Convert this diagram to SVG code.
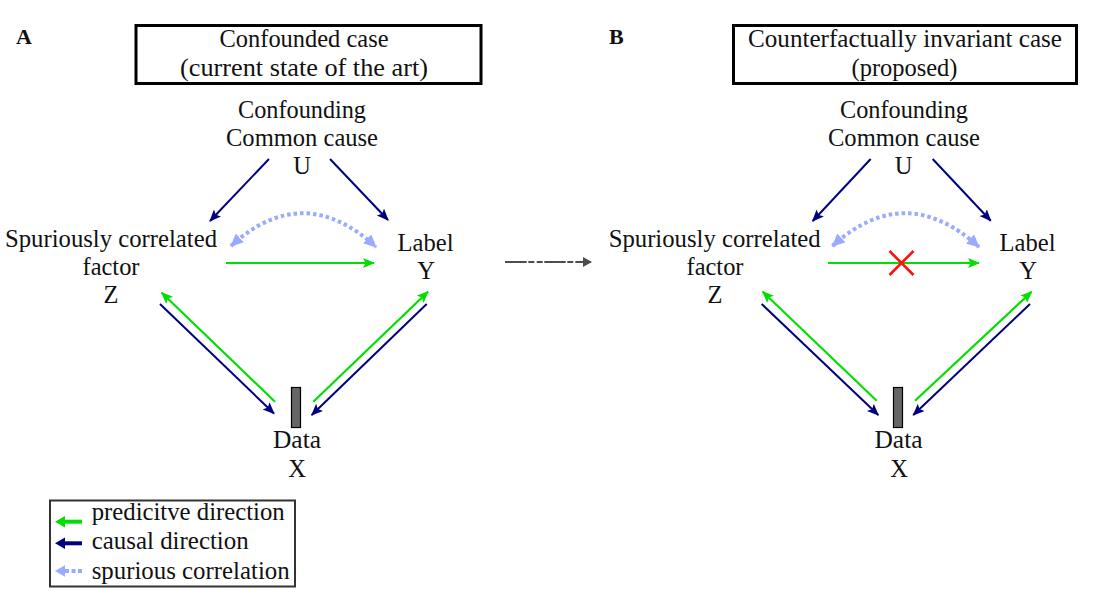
<svg xmlns="http://www.w3.org/2000/svg" width="1113" height="599" viewBox="0 0 1113 599">
<style>
text{font-family:"Liberation Serif","Times New Roman",serif;font-size:24.5px;fill:#111;}
.c{text-anchor:middle;}
.b{font-weight:bold;font-size:22px;}
.nav{stroke:#000080;stroke-width:2;fill:none;}
.grn{stroke:#00e000;stroke-width:2.2;fill:none;}
.spu{stroke:#99aaff;stroke-width:4;fill:none;stroke-dasharray:3.5 3;}
.title{fill:#fff;stroke:#000;stroke-width:3;}
</style>
<defs>
<marker id="mNav" markerUnits="userSpaceOnUse" markerWidth="14" markerHeight="12" refX="11" refY="5" orient="auto"><path d="M0,0 L12,5 L0,10 L2.5,5 z" fill="#000080"/></marker>
<marker id="mGrn" markerUnits="userSpaceOnUse" markerWidth="14" markerHeight="12" refX="11" refY="5" orient="auto"><path d="M0,0 L12,5 L0,10 L2.5,5 z" fill="#00e000"/></marker>
<marker id="mSpu" markerUnits="userSpaceOnUse" markerWidth="16" markerHeight="14" refX="12" refY="6" orient="auto-start-reverse"><path d="M0,0 L13,6 L0,12 z" fill="#99aaff"/></marker>
<marker id="mGray" markerUnits="userSpaceOnUse" markerWidth="12" markerHeight="12" refX="8" refY="5" orient="auto"><path d="M0,0 L9,5 L0,10 z" fill="#4d4d4d"/></marker>
</defs>

<!-- Panel A -->
<g id="panelA-label"><text class="b" x="16" y="44">A</text></g>
<g id="titleA"><rect class="title" x="136" y="25.5" width="345" height="58"/>
<text class="c" x="304" y="47" textLength="169" lengthAdjust="spacingAndGlyphs">Confounded case</text>
<text class="c" x="304" y="76" textLength="248" lengthAdjust="spacingAndGlyphs">(current state of the art)</text></g>
<g id="nodeU_A"><text class="c" x="302" y="118" textLength="128" lengthAdjust="spacingAndGlyphs">Confounding</text>
<text class="c" x="302" y="146" textLength="152" lengthAdjust="spacingAndGlyphs">Common cause</text>
<text class="c" x="302" y="174">U</text></g>
<g id="nodeZ_A"><text class="c" x="111" y="246.5" textLength="212" lengthAdjust="spacingAndGlyphs">Spuriously correlated</text>
<text class="c" x="111" y="274.5" textLength="57" lengthAdjust="spacingAndGlyphs">factor</text>
<text class="c" x="111" y="302.5">Z</text></g>
<g id="nodeY_A"><text class="c" x="425.5" y="250.5" textLength="56" lengthAdjust="spacingAndGlyphs">Label</text>
<text class="c" x="426" y="279">Y</text></g>
<g id="nodeX_A"><rect x="291.5" y="387.5" width="9" height="40" fill="#666" stroke="#000" stroke-width="1.2"/>
<text class="c" x="297" y="448" textLength="48" lengthAdjust="spacingAndGlyphs">Data</text>
<text class="c" x="297" y="476.5">X</text></g>

<!-- Panel B -->
<g id="panelB-label"><text class="b" x="609" y="44">B</text></g>
<g id="titleB"><rect class="title" x="733.5" y="25.5" width="343" height="58"/>
<text class="c" x="905" y="47" textLength="314" lengthAdjust="spacingAndGlyphs">Counterfactually invariant case</text>
<text class="c" x="904.5" y="76" textLength="106" lengthAdjust="spacingAndGlyphs">(proposed)</text></g>
<g id="nodeU_B"><text class="c" x="904" y="118" textLength="128" lengthAdjust="spacingAndGlyphs">Confounding</text>
<text class="c" x="904" y="146" textLength="152" lengthAdjust="spacingAndGlyphs">Common cause</text>
<text class="c" x="903.5" y="174">U</text></g>
<g id="nodeZ_B"><text class="c" x="714.7" y="246.5" textLength="212" lengthAdjust="spacingAndGlyphs">Spuriously correlated</text>
<text class="c" x="715" y="274.5" textLength="57" lengthAdjust="spacingAndGlyphs">factor</text>
<text class="c" x="715" y="302.5">Z</text></g>
<g id="nodeY_B"><text class="c" x="1027.5" y="250.5" textLength="56" lengthAdjust="spacingAndGlyphs">Label</text>
<text class="c" x="1028" y="279">Y</text></g>
<g id="nodeX_B"><rect x="893.5" y="387.5" width="9" height="40" fill="#666" stroke="#000" stroke-width="1.2"/>
<text class="c" x="898.5" y="448" textLength="48" lengthAdjust="spacingAndGlyphs">Data</text>
<text class="c" x="899" y="476.5">X</text></g>

<!-- Connectors -->
<g id="connectors">
<!-- A -->
<path class="nav" d="M269,159 L210,221" marker-end="url(#mNav)"/>
<path class="nav" d="M330,159 L388,220" marker-end="url(#mNav)"/>
<path class="spu" d="M231,246 Q303,180 376,247" marker-start="url(#mSpu)" marker-end="url(#mSpu)"/>
<path class="grn" d="M226,263 L374,263" marker-end="url(#mGrn)"/>
<path class="grn" d="M275,401.7 L161.7,292.7" marker-end="url(#mGrn)"/>
<path class="nav" d="M160,304 L274,413.5" marker-end="url(#mNav)"/>
<path class="grn" d="M313.3,401.7 L428,291.7" marker-end="url(#mGrn)"/>
<path class="nav" d="M426.7,304 L311.7,415" marker-end="url(#mNav)"/>
<!-- middle -->
<path d="M505,262 L591,262" stroke="#4d4d4d" stroke-width="2" fill="none" stroke-dasharray="21.7 1.6 6 2.4 6 1.6 21.4 1.6 6 2 16" marker-end="url(#mGray)"/>
<!-- B -->
<path class="nav" d="M870.7,159 L812.7,221" marker-end="url(#mNav)"/>
<path class="nav" d="M932.7,159 L990.7,220.7" marker-end="url(#mNav)"/>
<path class="spu" d="M832.5,246 Q905,180 979,247" marker-start="url(#mSpu)" marker-end="url(#mSpu)"/>
<path class="grn" d="M828,263 L979,263" marker-end="url(#mGrn)"/>
<path class="grn" d="M876.7,400.7 L762.7,291.7" marker-end="url(#mGrn)"/>
<path class="nav" d="M761.7,304 L878.3,415" marker-end="url(#mNav)"/>
<path class="grn" d="M915,400.7 L1031.7,291.7" marker-end="url(#mGrn)"/>
<path class="nav" d="M1030,304 L913.3,415" marker-end="url(#mNav)"/>
<g id="crossX" stroke="#ff1010" stroke-width="2.6"><line x1="889.5" y1="251" x2="913.5" y2="275"/><line x1="913.5" y1="251" x2="889.5" y2="275"/></g>
</g>

<!-- Legend -->
<g id="legend">
<rect x="50" y="500.5" width="245" height="86" fill="#fff" stroke="#333" stroke-width="2"/>
<line x1="82" y1="521.7" x2="62" y2="521.7" stroke="#00e000" stroke-width="4"/>
<path d="M55,521.7 L65,516 L65,527.4 z" fill="#00e000"/>
<line x1="82" y1="543.3" x2="62" y2="543.3" stroke="#000080" stroke-width="4"/>
<path d="M55,543.3 L65,537.6 L65,549 z" fill="#000080"/>
<line x1="82" y1="571" x2="64" y2="571" stroke="#99aaff" stroke-width="4" stroke-dasharray="4 2.5"/>
<path d="M55,571 L65,565.3 L65,576.7 z" fill="#99aaff"/>
<text x="91.7" y="520" textLength="193" lengthAdjust="spacingAndGlyphs">predicitve direction</text>
<text x="91.7" y="549.3" textLength="157" lengthAdjust="spacingAndGlyphs">causal direction</text>
<text x="91.7" y="579.3" textLength="198" lengthAdjust="spacingAndGlyphs">spurious correlation</text>
</g>
</svg>
